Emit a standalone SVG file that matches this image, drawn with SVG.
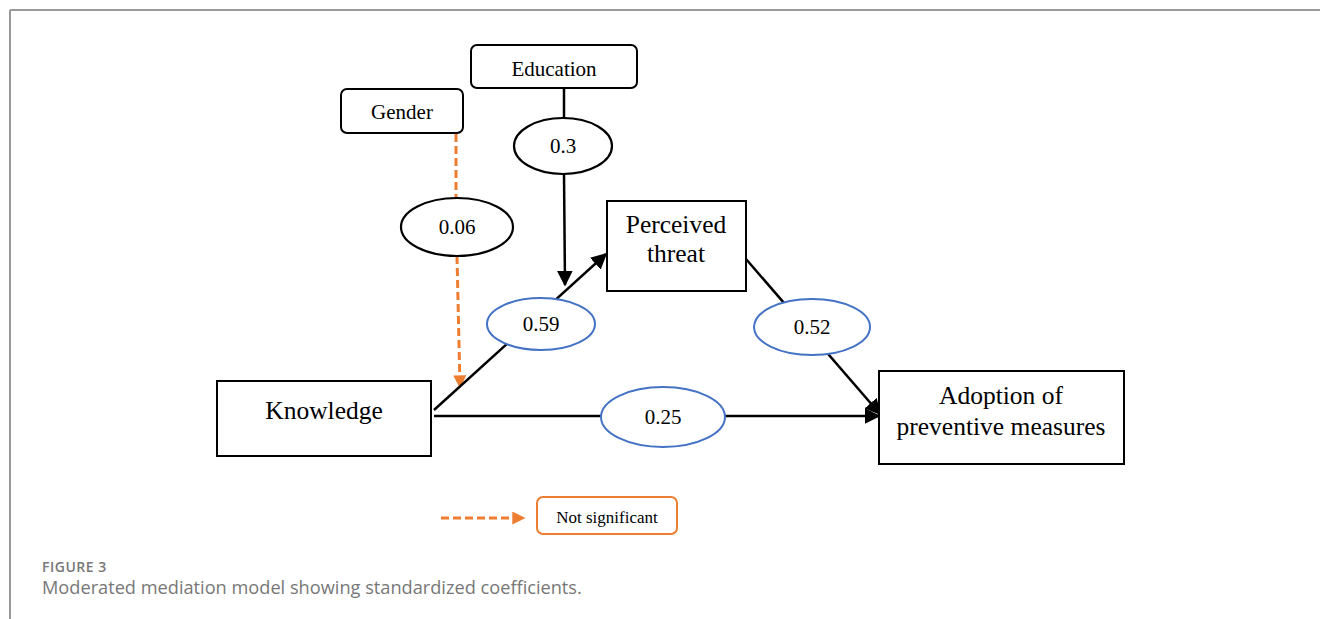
<svg xmlns="http://www.w3.org/2000/svg" width="1320" height="619" viewBox="0 0 1320 619">
<defs>
<marker id="abk" viewBox="0 0 10 10" refX="9" refY="5" markerWidth="16" markerHeight="16" orient="auto" markerUnits="userSpaceOnUse"><path d="M0,0 L10,5 L0,10 z" fill="#000"/></marker>
<marker id="ao" viewBox="0 0 10 10" refX="9" refY="5" markerWidth="13" markerHeight="13" orient="auto" markerUnits="userSpaceOnUse"><path d="M0,0 L10,5 L0,10 z" fill="#ED7D31"/></marker>
<style>
.box{fill:#fff;stroke:#000;stroke-width:2}
.rbox{fill:#fff;stroke:#000;stroke-width:2}
.eb{fill:#fff;stroke:#000;stroke-width:2.2}
.ebl{fill:#fff;stroke:#4472C4;stroke-width:2}
.ln{stroke:#000;stroke-width:2.5;fill:none}
.dash{stroke:#ED7D31;stroke-width:3;stroke-dasharray:8,4;fill:none}
.t{font-family:"Liberation Serif","Times New Roman",serif;fill:#000;text-anchor:middle}
.cap{font-family:"Open Sans","Noto Sans",sans-serif;fill:#777}
</style>
</defs>
<rect width="1320" height="619" fill="#fff"/>
<path d="M10,10 H1320 M10,10 V619" stroke="#999" stroke-width="2" fill="none"/>

<g id="connectors">
<line class="ln" x1="564" y1="88" x2="564" y2="118"/>
<line class="ln" x1="564" y1="174" x2="565" y2="285" marker-end="url(#abk)"/>
<line class="dash" x1="456" y1="134" x2="456" y2="198"/>
<line class="dash" x1="457" y1="256" x2="460" y2="387" marker-end="url(#ao)"/>
<line class="ln" x1="434" y1="410" x2="606" y2="254" marker-end="url(#abk)"/>
<line class="ln" x1="746" y1="259" x2="880" y2="414" marker-end="url(#abk)"/>
<line class="ln" x1="434" y1="416" x2="879" y2="416" marker-end="url(#abk)"/>
<line class="dash" x1="441" y1="518" x2="524" y2="518" marker-end="url(#ao)"/>
</g>

<g id="education"><rect class="rbox" x="471" y="45" width="166" height="43" rx="6"/><text class="t" x="554" y="76" font-size="21">Education</text></g>
<g id="gender"><rect class="rbox" x="341" y="89" width="122" height="44" rx="6"/><text class="t" x="402" y="119" font-size="21">Gender</text></g>
<g id="coef-edu"><ellipse class="eb" cx="563" cy="146" rx="49" ry="28"/><text class="t" x="563" y="153" font-size="21">0.3</text></g>
<g id="coef-gender"><ellipse class="eb" cx="457" cy="227" rx="56" ry="29"/><text class="t" x="457" y="234" font-size="21">0.06</text></g>
<g id="perceived"><rect class="box" x="607" y="201" width="139" height="90"/><text class="t" x="676" y="233" font-size="25.5">Perceived</text><text class="t" x="676" y="262" font-size="25.5">threat</text></g>
<g id="knowledge"><rect class="box" x="217" y="381" width="214" height="75"/><text class="t" x="324" y="419" font-size="25.5">Knowledge</text></g>
<g id="adoption"><rect class="box" x="879" y="371" width="245" height="93"/><text class="t" x="1001" y="404" font-size="25.5">Adoption of</text><text class="t" x="1001" y="435" font-size="25.5">preventive measures</text></g>
<g id="coef-059"><ellipse class="ebl" cx="541" cy="324" rx="54" ry="26"/><text class="t" x="541" y="331" font-size="21">0.59</text></g>
<g id="coef-052"><ellipse class="ebl" cx="812" cy="327" rx="58" ry="28"/><text class="t" x="812" y="334" font-size="21">0.52</text></g>
<g id="coef-025"><ellipse class="ebl" cx="663" cy="417" rx="62" ry="30"/><text class="t" x="663" y="424" font-size="21">0.25</text></g>
<g id="legend"><rect x="537" y="497" width="140" height="37" rx="6" fill="#fff" stroke="#ED7D31" stroke-width="2"/><text class="t" x="607" y="523" font-size="17">Not significant</text></g>

<text class="cap" x="42" y="572" font-size="14" font-weight="600" letter-spacing="0.5">FIGURE 3</text>
<text class="cap" x="42" y="594" font-size="18.2">Moderated mediation model showing standardized coefficients.</text>
</svg>
